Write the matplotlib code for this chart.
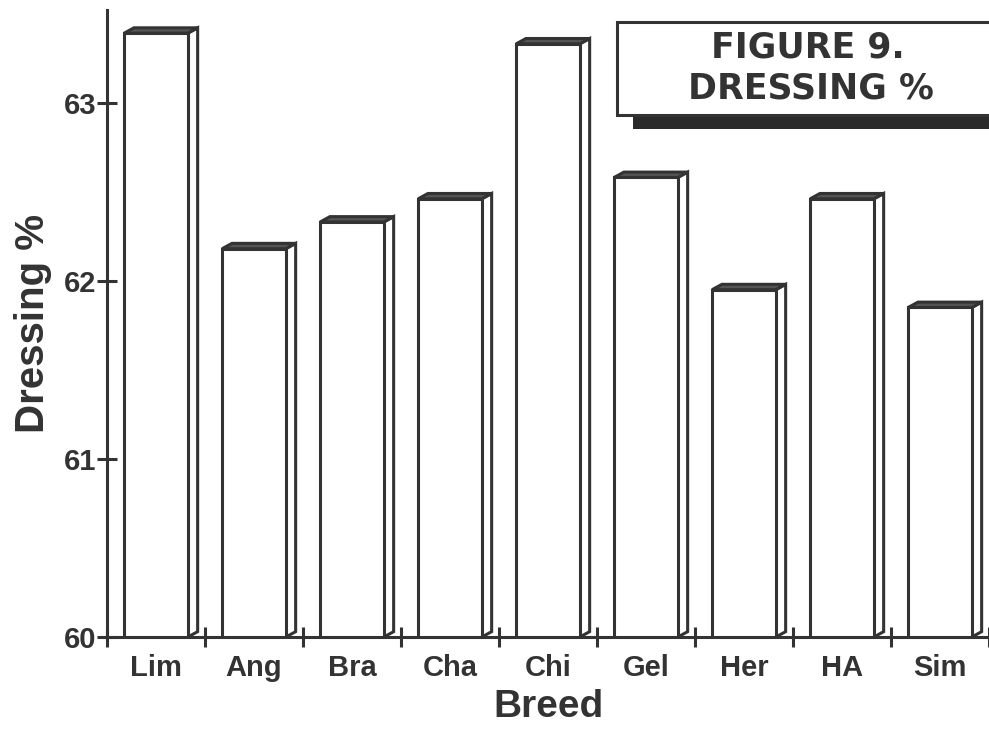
import matplotlib
matplotlib.use("Agg")
import matplotlib.pyplot as plt
from matplotlib.patches import Polygon, Rectangle
import numpy as np

breeds = ["Lim", "Ang", "Bra", "Cha", "Chi", "Gel", "Her", "HA", "Sim"]
dressing = [63.39, 62.18, 62.33, 62.46, 63.33, 62.58, 61.95, 62.46, 61.85]
y_ticks = [60, 61, 62, 63]

ink = "#333333"
lw = 2.2
bar_w = 0.65
dx, dy = 0.1, 0.03   # depth of the fake 3-D faces, in data units
base = 60

fig = plt.figure(figsize=(9.89, 7.29), dpi=100)
ax = fig.add_axes([107 / 989, 92 / 729, 1 - 107 / 989, 627 / 729])

x = np.arange(len(breeds))
vals = np.array(dressing)

ax.bar(x, vals - base, bottom=base, width=bar_w, facecolor="white",
       edgecolor=ink, linewidth=lw, zorder=3)

for xi, v in zip(x, vals):
    left, right = xi - bar_w / 2, xi + bar_w / 2
    side = Polygon([(right, base), (right + dx, base + dy), (right + dx, v + dy), (right, v)],
                   closed=True, facecolor="white", edgecolor=ink, linewidth=lw, zorder=2)
    top = Polygon([(left, v), (left + dx, v + dy), (right + dx, v + dy), (right, v)],
                  closed=True, facecolor="#555555", edgecolor=ink, linewidth=lw, zorder=4)
    ax.add_patch(side)
    ax.add_patch(top)

ax.set_xlim(-0.5, len(breeds) - 0.5)
ax.set_ylim(60, 63.52)

ax.set_xticks(x)
ax.set_xticklabels(breeds)
ax.set_xticks(np.arange(len(breeds) + 1) - 0.5, minor=True)
ax.tick_params(axis="x", which="major", length=0, pad=12)
ax.tick_params(axis="x", which="minor", direction="inout", length=14, width=lw, color=ink)

ax.set_yticks(y_ticks)
ax.tick_params(axis="y", direction="inout", length=14, width=lw, color=ink, pad=1)

for lab in ax.get_xticklabels() + ax.get_yticklabels():
    lab.set_family("Liberation Sans")
    lab.set_fontweight("bold")
    lab.set_fontsize(21)
    lab.set_color(ink)

for s in ["top", "right"]:
    ax.spines[s].set_visible(False)
for s in ["left", "bottom"]:
    ax.spines[s].set_linewidth(lw)
    ax.spines[s].set_color(ink)

ax.set_xlabel("Breed", family="Liberation Sans", fontweight="bold", fontsize=28,
              color=ink, labelpad=5)
ax.set_ylabel("Dressing %", family="Liberation Sans", fontweight="bold", fontsize=29,
              color=ink, labelpad=8)

# title box with a dark drop shadow, running off the right edge
fig.patches.append(Rectangle((633 / 989, 600 / 729), 0.4, 15 / 729, transform=fig.transFigure,
                             facecolor="#2a2a2a", edgecolor="none", zorder=5))
fig.patches.append(Rectangle((617 / 989, 614 / 729), 0.4, 93 / 729, transform=fig.transFigure,
                             facecolor="white", edgecolor=ink, linewidth=lw, zorder=6))
fig.text(0.817, 0.9355, "FIGURE 9.", ha="center", va="center", fontsize=25,
         family="DejaVu Sans", fontweight="bold", color=ink, zorder=7)
fig.text(0.82, 0.879, "DRESSING %", ha="center", va="center", fontsize=25,
         family="DejaVu Sans", fontweight="bold", color=ink, zorder=7)

fig.savefig("out.png", dpi=100)
